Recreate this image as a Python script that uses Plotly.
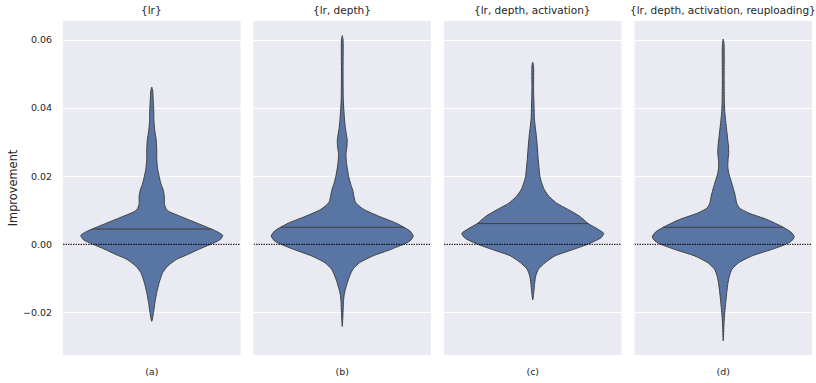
import numpy as np
import plotly.graph_objects as go

# Panel titles and x tick labels
titles = ["{lr}", "{lr, depth}", "{lr, depth, activation}",
          "{lr, depth, activation, reuploading}"]
labels = ["(a)", "(b)", "(c)", "(d)"]

# Kernel density profiles of improvement: (value, relative density)
a_values = [0.0462, 0.0450, 0.0423, 0.0393, 0.0364, 0.0335, 0.0306, 0.0277, 0.0250,
            0.0220, 0.0199, 0.0180, 0.0160, 0.0140, 0.0120, 0.0107, 0.0097, 0.0082,
            0.0063, 0.0045, 0.0034, 0.0026, 0.0014, 0.0000, -0.0015, -0.0030,
            -0.0044, -0.0064, -0.0083, -0.0112, -0.0142, -0.0171, -0.0200, -0.0226]
a_density = [0.0, 1.0, 1.5, 2.0, 2.2, 3.0, 4.5, 5.0, 5.0,
             6.0, 7.5, 9.0, 11.5, 12.7, 12.7, 14.0, 17.0, 29.0,
             45.0, 60.0, 68.0, 71.5, 69.0, 59.0, 47.0, 36.0,
             25.0, 16.0, 11.0, 7.5, 5.0, 3.2, 1.8, 0.0]

b_values = [0.0613, 0.0600, 0.0500, 0.0430, 0.0400, 0.0370, 0.0345, 0.0326, 0.0306,
            0.0286, 0.0267, 0.0248, 0.0228, 0.0199, 0.0180, 0.0160, 0.0141, 0.0126,
            0.0116, 0.0102, 0.0082, 0.0063, 0.0050, 0.0039, 0.0024, 0.0010, 0.0000,
            -0.0015, -0.0034, -0.0054, -0.0073, -0.0093, -0.0112, -0.0132, -0.0151,
            -0.0171, -0.0200, -0.0241]
b_density = [0.0, 0.8, 0.8, 1.0, 1.5, 2.2, 3.0, 4.0, 5.0,
             4.7, 3.8, 4.0, 4.8, 6.5, 8.2, 10.5, 11.8, 13.0,
             15.8, 22.0, 37.5, 54.0, 62.5, 68.5, 71.8, 68.5, 61.8,
             49.0, 31.0, 17.5, 10.8, 7.5, 5.2, 3.2, 1.8,
             1.2, 0.8, 0.0]

c_values = [0.0535, 0.0525, 0.0460, 0.0432, 0.0403, 0.0370, 0.0345, 0.0326, 0.0306,
            0.0277, 0.0248, 0.0219, 0.0199, 0.0180, 0.0160, 0.0141, 0.0121, 0.0102,
            0.0082, 0.0061, 0.0044, 0.0032, 0.0019, 0.0000, -0.0015, -0.0034,
            -0.0054, -0.0073, -0.0093, -0.0112, -0.0142, -0.0163]
c_density = [0.0, 0.8, 0.8, 1.0, 1.3, 1.6, 2.5, 3.3, 4.0,
             4.8, 5.5, 6.5, 7.2, 9.0, 11.7, 16.3, 24.0, 35.7,
             47.3, 55.7, 65.7, 71.3, 68.3, 55.0, 40.7, 22.3,
             12.3, 5.7, 3.0, 2.0, 1.0, 0.0]

d_values = [0.0603, 0.0590, 0.0480, 0.0420, 0.0394, 0.0355, 0.0316, 0.0286, 0.0267,
            0.0248, 0.0228, 0.0209, 0.0199, 0.0180, 0.0160, 0.0141, 0.0121, 0.0107,
            0.0092, 0.0073, 0.0050, 0.0036, 0.0022, 0.0010, 0.0000, -0.0015,
            -0.0034, -0.0054, -0.0073, -0.0093, -0.0112, -0.0142, -0.0171, -0.0200,
            -0.0229, -0.0283]
d_density = [0.0, 0.8, 0.9, 1.1, 1.4, 2.7, 4.2, 5.3, 5.5,
             4.8, 4.6, 5.5, 6.5, 8.5, 10.5, 12.2, 13.5, 16.2,
             25.5, 44.0, 60.5, 68.2, 71.5, 68.8, 62.8, 48.8,
             28.8, 15.5, 8.8, 6.2, 4.8, 3.5, 2.5, 1.5,
             0.8, 0.0]

# Mean improvement per configuration
means = [0.0045, 0.0050, 0.0061, 0.0050]

profiles = [(a_values, a_density), (b_values, b_density),
            (c_values, c_density), (d_values, d_density)]

FILL = "#5875a3"
EDGE = "#404040"
TEXT = "#262626"
BG = "#eaeaf2"
HALF_WIDTH = 0.4  # half of the violin width in category units

W, H = 816, 383
ML, MR, MT, MB = 63, 4, 21, 28
plot_w = W - ML - MR
panel_w = 177.5
gap = (plot_w - 4 * panel_w) / 3

fig = go.Figure()

for i, ((vals, dens), mean) in enumerate(zip(profiles, means)):
    xa = "x" if i == 0 else f"x{i + 1}"
    vals = np.asarray(vals, dtype=float)
    dens = np.asarray(dens, dtype=float)
    half = dens / dens.max() * HALF_WIDTH

    # right side bottom -> top, then left side top -> bottom
    order = np.argsort(vals)
    v_sorted, h_sorted = vals[order], half[order]
    xs = np.concatenate([h_sorted, -h_sorted[::-1]])
    ys = np.concatenate([v_sorted, v_sorted[::-1]])

    fig.add_trace(go.Scatter(
        x=xs, y=ys, xaxis=xa, yaxis="y", mode="lines",
        fill="toself", fillcolor=FILL,
        line=dict(color=EDGE, width=1, shape="spline", smoothing=0.6),
        hoverinfo="skip", showlegend=False))

    # mean line spanning the violin at that level
    mw = float(np.interp(mean, v_sorted, h_sorted))
    fig.add_trace(go.Scatter(
        x=[-mw, mw], y=[mean, mean], xaxis=xa, yaxis="y", mode="lines",
        line=dict(color=EDGE, width=1), hoverinfo="skip", showlegend=False))

    # zero reference line
    fig.add_trace(go.Scatter(
        x=[-0.5, 0.5], y=[0, 0], xaxis=xa, yaxis="y", mode="lines",
        line=dict(color="black", width=1, dash="1.5px,1px"),
        hoverinfo="skip", showlegend=False))

    x0 = i * (panel_w + gap) / plot_w
    x1 = min(1.0, (i * (panel_w + gap) + panel_w) / plot_w)
    axis = dict(
        domain=[x0, x1], range=[-0.5, 0.5], showgrid=False, zeroline=False,
        tickvals=[0], ticktext=[labels[i]], ticks="outside", ticklen=8,
        tickcolor="rgba(0,0,0,0)", tickfont=dict(size=9.5, color=TEXT),
        showline=False, fixedrange=True)
    if i > 0:
        axis["anchor"] = "y"
    fig.update_layout({("xaxis" if i == 0 else f"xaxis{i + 1}"): axis})

    fig.add_annotation(
        x=(x0 + x1) / 2, y=1, xref="paper", yref="paper",
        text=titles[i], showarrow=False, xanchor="center", yanchor="bottom",
        yshift=3, font=dict(size=10.5, color=TEXT))

fig.update_layout(
    width=W, height=H,
    margin=dict(l=ML, r=MR, t=MT, b=MB),
    paper_bgcolor="white", plot_bgcolor=BG,
    font=dict(family="DejaVu Sans", color=TEXT),
    yaxis=dict(
        range=[-0.0325, 0.0656], tickvals=[-0.02, 0.0, 0.02, 0.04, 0.06],
        tickformat=".2f", showgrid=True, gridcolor="white", gridwidth=1,
        zeroline=False, ticks="outside", ticklen=8, tickcolor="rgba(0,0,0,0)",
        tickfont=dict(size=9.5, color=TEXT),
        title=dict(text="Improvement", font=dict(size=11.4, color=TEXT), standoff=2),
        fixedrange=True),
)

fig.write_html("out.html")
